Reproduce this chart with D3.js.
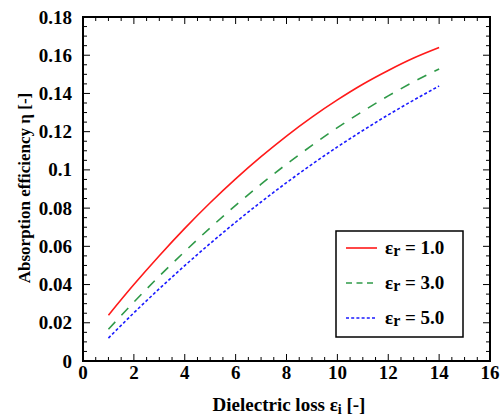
<!DOCTYPE html>
<html>
<head>
<meta charset="utf-8">
<script src="https://cdn.jsdelivr.net/npm/d3@7"></script>
<style>
  body { margin: 0; background: #fff; }
  svg text { font-family: "Liberation Serif", "DejaVu Serif", serif; font-weight: bold; }
</style>
</head>
<body>
<div id="chart"></div>
<script>
// dielectric loss values (x)
const epsI = [1, 2, 3, 4, 5, 6, 7, 8, 9, 10, 11, 12, 13, 14];
// absorption efficiency for each relative permittivity
const etaR1 = [0.024, 0.040, 0.0551, 0.0694, 0.0828, 0.0953, 0.1069, 0.1177, 0.1276, 0.1366, 0.1448, 0.1520, 0.1585, 0.1640];
const etaR3 = [0.0166, 0.0308, 0.0444, 0.0573, 0.0697, 0.0814, 0.0925, 0.1030, 0.1128, 0.1221, 0.1307, 0.1387, 0.1461, 0.1528];
const etaR5 = [0.012, 0.0252, 0.0378, 0.0499, 0.0615, 0.0726, 0.0832, 0.0933, 0.1029, 0.1120, 0.1206, 0.1288, 0.1365, 0.1439];
const seriesLabels = ["1.0", "3.0", "5.0"];
const xTicks = [0, 2, 4, 6, 8, 10, 12, 14, 16];
const yTicks = [0, 0.02, 0.04, 0.06, 0.08, 0.1, 0.12, 0.14, 0.16, 0.18];

const W = 504, H = 416;
const margin = { top: 17, right: 14, bottom: 55, left: 83 };
const width = W - margin.left - margin.right;
const height = H - margin.top - margin.bottom;

const svg = d3.select("#chart").append("svg")
    .attr("width", W)
    .attr("height", H);

const g = svg.append("g")
    .attr("transform", "translate(" + margin.left + "," + margin.top + ")");

const x = d3.scaleLinear().domain([0, 16]).range([0, width]);
const y = d3.scaleLinear().domain([0, 0.18]).range([height, 0]);

// minor ticks: 3 between each pair of majors
const xMinor = d3.range(0, 16.01, 0.5).filter(v => v % 2 !== 0);
const yMinor = d3.range(0, 0.1801, 0.005).map(v => +v.toFixed(3)).filter(v => Math.round(v * 1000) % 20 !== 0);

// ticks drawn inward on all four sides
function tickLines(sel, vals, len, horiz) {
    vals.forEach(v => {
        if (horiz) {
            sel.append("line").attr("x1", x(v)).attr("x2", x(v)).attr("y1", height).attr("y2", height - len);
            sel.append("line").attr("x1", x(v)).attr("x2", x(v)).attr("y1", 0).attr("y2", len);
        } else {
            sel.append("line").attr("y1", y(v)).attr("y2", y(v)).attr("x1", 0).attr("x2", len);
            sel.append("line").attr("y1", y(v)).attr("y2", y(v)).attr("x1", width).attr("x2", width - len);
        }
    });
}
const ticks = g.append("g").attr("stroke", "#000").attr("stroke-width", 1);
tickLines(ticks, xTicks, 7, true);
tickLines(ticks, xMinor, 4, true);
tickLines(ticks, yTicks, 7, false);
tickLines(ticks, yMinor, 4, false);

// frame
g.append("rect")
    .attr("width", width)
    .attr("height", height)
    .attr("fill", "none")
    .attr("stroke", "#000")
    .attr("stroke-width", 2);

// tick labels
g.selectAll(".xlab").data(xTicks).enter().append("text")
    .attr("x", d => x(d))
    .attr("y", height + 18)
    .attr("text-anchor", "middle")
    .style("font-size", "19px")
    .text(d => d);

g.selectAll(".ylab").data(yTicks).enter().append("text")
    .attr("x", -11)
    .attr("y", d => y(d) + 6.5)
    .attr("text-anchor", "end")
    .style("font-size", "19px")
    .text(d => d);

// axis titles
const xt = svg.append("text")
    .attr("x", 289)
    .attr("y", 411)
    .attr("text-anchor", "middle")
    .style("font-size", "19px");
xt.append("tspan").text("Dielectric loss ε");
xt.append("tspan").attr("dy", 3).style("font-size", "14px").text("i");
xt.append("tspan").attr("dy", -3).text(" [-]");

svg.append("text")
    .attr("transform", "translate(30,188) rotate(-90)")
    .attr("text-anchor", "middle")
    .style("font-size", "17px")
    .text("Absorption efficiency η [-]");

// curves
const series = [
    { vals: etaR1, color: "#ff1a1a", dash: null, legDash: null },
    { vals: etaR3, color: "#2f9a48", dash: "10,9", legDash: "6,4.5" },
    { vals: etaR5, color: "#1a1aff", dash: "3,2.2", legDash: "3,2.2" }
];

const line = d3.line()
    .x((d, i) => x(epsI[i]))
    .y(d => y(d))
    .curve(d3.curveMonotoneX);

series.forEach(s => {
    g.append("path")
        .attr("d", line(s.vals))
        .attr("fill", "none")
        .attr("stroke", s.color)
        .attr("stroke-width", 1.6)
        .attr("stroke-dasharray", s.dash);
});

// legend
const legend = svg.append("g").attr("transform", "translate(336,231)");
legend.append("rect")
    .attr("width", 127)
    .attr("height", 106)
    .attr("fill", "#fff")
    .attr("stroke", "#000")
    .attr("stroke-width", 1.5);

series.forEach((s, i) => {
    const ry = 17 + i * 35;
    legend.append("line")
        .attr("x1", 10).attr("x2", 41)
        .attr("y1", ry).attr("y2", ry)
        .attr("stroke", s.color)
        .attr("stroke-width", 1.6)
        .attr("stroke-dasharray", s.legDash);
    const t = legend.append("text")
        .attr("x", 49)
        .attr("y", ry + 6)
        .style("font-size", "19px");
    t.append("tspan").text("ε");
    t.append("tspan").attr("dy", 2).style("font-size", "16px").text("r");
    t.append("tspan").attr("dy", -2).text(" = " + seriesLabels[i]);
});
</script>
</body>
</html>
